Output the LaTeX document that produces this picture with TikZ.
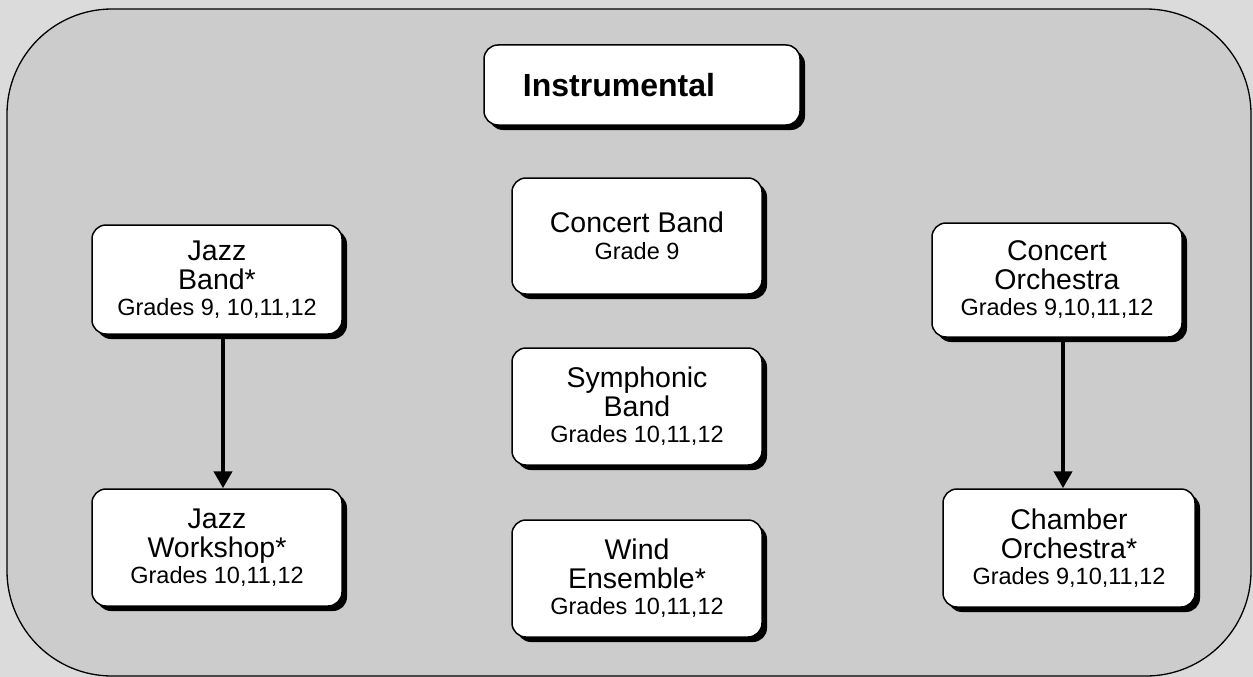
\documentclass[tikz,border=0pt]{standalone}
\usepackage{fontspec}
\setmainfont{Liberation Sans}
\usetikzlibrary{arrows.meta,shadows}
\definecolor{outerbg}{HTML}{DBDBDB}
\definecolor{innerbg}{HTML}{CCCCCC}
\newcommand{\bigtxt}{\fontsize{28.5}{29}\selectfont}
\newcommand{\smalltxt}{\fontsize{23.5}{25}\selectfont}
\begin{document}
\begin{tikzpicture}[x=1pt,y=-1pt,
  box/.style={draw, line width=1.5pt, fill=white, rounded corners=14pt,
    drop shadow={shadow xshift=5pt, shadow yshift=-5pt, fill=black, opacity=1},
    align=center, inner sep=0pt, font=\bigtxt},
  conn/.style={line width=4.5pt, -{Triangle[length=17pt,width=18pt]}}]
\useasboundingbox (0,0) rectangle (1253,677);
\fill[outerbg] (0,0) rectangle (1253,677);
\draw[fill=innerbg, line width=1.3pt, rounded corners=105pt] (7,9) rectangle (1251,676);

\node[box, minimum width=316pt, minimum height=80pt] (inst) at (642,85)
  {\hspace*{-46pt}\fontsize{32}{36}\selectfont\bfseries Instrumental};

\node[box, minimum width=250pt, minimum height=116pt] (cb) at (637,236)
  {Concert Band\\[-2pt]\smalltxt Grade 9};
\node[box, minimum width=250pt, minimum height=117pt] (sb) at (637,406.5)
  {Symphonic\\Band\\[-3pt]\smalltxt Grades 10,11,12};
\node[box, minimum width=250pt, minimum height=117pt] (we) at (637,578.5)
  {Wind\\Ensemble*\\[-3pt]\smalltxt Grades 10,11,12};

\node[box, minimum width=250pt, minimum height=109pt] (jb) at (217,279.5)
  {Jazz\\Band*\\[-3pt]\smalltxt Grades 9, 10,11,12};
\node[box, minimum width=250pt, minimum height=117pt] (jw) at (217,547.5)
  {Jazz\\Workshop*\\[-3pt]\smalltxt Grades 10,11,12};

\node[box, minimum width=250pt, minimum height=114pt] (co) at (1057,280)
  {Concert\\Orchestra\\[-3pt]\smalltxt Grades 9,10,11,12};
\node[box, minimum width=252pt, minimum height=118pt] (ch) at (1069,548)
  {Chamber\\Orchestra*\\[-3pt]\smalltxt Grades 9,10,11,12};

\draw[conn] ([xshift=6pt]jb.south) -- ([xshift=6pt]jw.north);
\draw[conn] ([xshift=6pt]co.south) -- ([xshift=-6pt]ch.north);
\end{tikzpicture}
\end{document}
